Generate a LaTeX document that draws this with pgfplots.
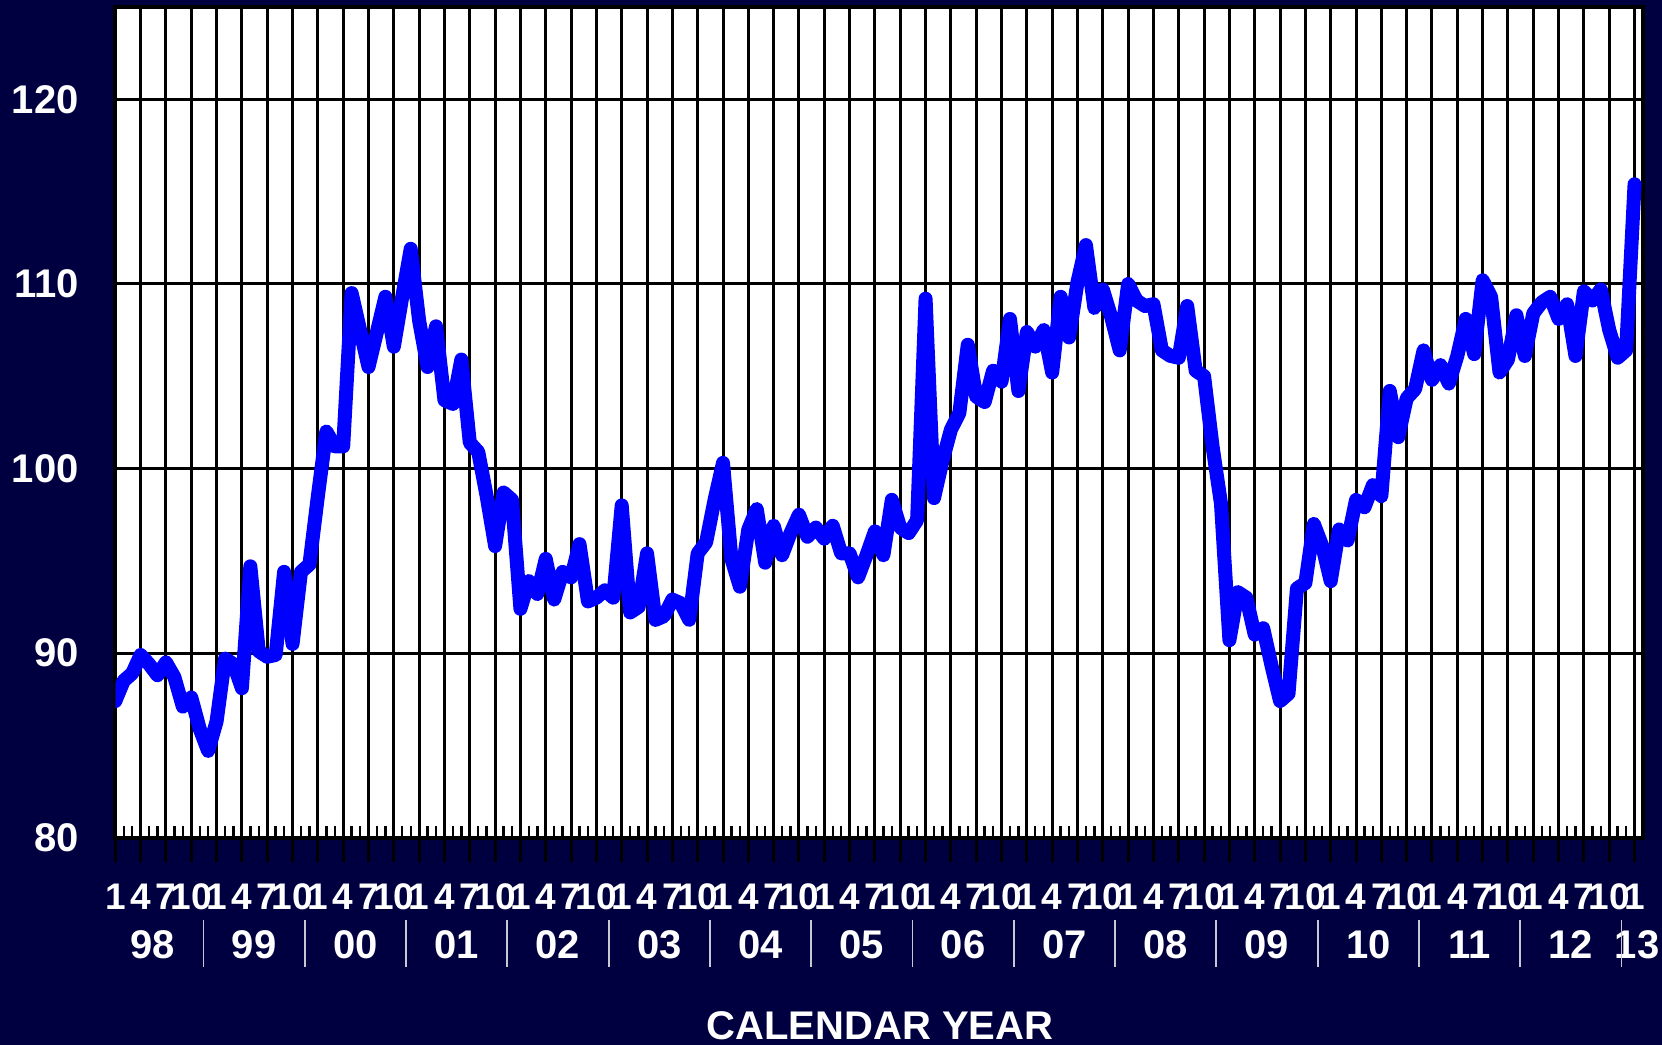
\documentclass[border=0pt]{standalone}
\usepackage{pgfplots}
\pgfplotsset{compat=1.18}
\usepackage{pgfplotstable}
\usepackage{fontspec}
\setmainfont{Liberation Sans}
\definecolor{navybg}{RGB}{0,0,64}
\definecolor{lineblue}{RGB}{0,0,255}
\definecolor{sepgrey}{RGB}{200,200,210}

\pgfplotstableread{
m v
0 87.4
1 88.5
2 88.9
3 89.9
4 89.4
5 88.8
6 89.5
7 88.7
8 87.1
9 87.6
10 85.9
11 84.7
12 86.3
13 89.7
14 89.4
15 88.1
16 94.7
17 90.1
18 89.8
19 89.9
20 94.4
21 90.5
22 94.4
23 94.8
24 98.5
25 102.0
26 101.2
27 101.2
28 109.5
29 107.5
30 105.5
31 107.4
32 109.3
33 106.6
34 109.3
35 111.9
36 108.0
37 105.5
38 107.7
39 103.7
40 103.5
41 105.9
42 101.4
43 100.9
44 98.5
45 95.8
46 98.7
47 98.3
48 92.4
49 93.9
50 93.2
51 95.1
52 92.9
53 94.4
54 94.1
55 95.9
56 92.8
57 93.0
58 93.4
59 93.0
60 98.0
61 92.2
62 92.5
63 95.4
64 91.8
65 92.0
66 92.9
67 92.7
68 91.8
69 95.4
70 96.0
71 98.3
72 100.3
73 95.1
74 93.6
75 96.7
76 97.8
77 94.9
78 96.9
79 95.3
80 96.5
81 97.5
82 96.3
83 96.8
84 96.2
85 96.9
86 95.4
87 95.4
88 94.1
89 95.3
90 96.6
91 95.3
92 98.3
93 96.8
94 96.5
95 97.2
96 109.2
97 98.4
98 100.4
99 102.1
100 103.0
101 106.7
102 103.9
103 103.6
104 105.3
105 104.7
106 108.1
107 104.2
108 107.4
109 106.6
110 107.5
111 105.2
112 109.3
113 107.1
114 110.1
115 112.1
116 108.7
117 109.7
118 108.2
119 106.4
120 110.0
121 109.1
122 108.8
123 108.9
124 106.4
125 106.1
126 106.0
127 108.8
128 105.3
129 105.0
130 101.2
131 98.1
132 90.7
133 93.3
134 93.0
135 91.0
136 91.35
137 89.3
138 87.4
139 87.8
140 93.5
141 93.8
142 97.0
143 95.8
144 93.9
145 96.7
146 96.1
147 98.3
148 97.9
149 99.1
150 98.5
151 104.2
152 101.7
153 103.8
154 104.3
155 106.4
156 104.8
157 105.6
158 104.6
159 106.1
160 108.1
161 106.2
162 110.2
163 109.3
164 105.2
165 105.9
166 108.3
167 106.1
168 108.4
169 109.0
170 109.3
171 108.1
172 108.9
173 106.1
174 109.6
175 109.1
176 109.7
177 107.5
178 106.0
179 106.4
180 115.4
}\datatable

\begin{document}
\begin{tikzpicture}[x=1pt,y=1pt]
\fill[navybg] (0,0) rectangle (831,522.5);
\path[use as bounding box] (0,0) rectangle (831,522.5);
\begin{axis}[
  at={(57.65pt,103.65pt)}, anchor=south west,
  scale only axis, width=763.85pt, height=415.35pt,
  xmin=0, xmax=181, ymin=80, ymax=125,
  axis background/.style={fill=white},
  axis line style={black, line width=2pt},
  grid=major,
  grid style={black, line width=1.5pt},
  xtick={0,3,...,180},
  xticklabels={1,4,7,10,1,4,7,10,1,4,7,10,1,4,7,10,1,4,7,10,1,4,7,10,1,4,7,10,1,4,7,10,1,4,7,10,1,4,7,10,1,4,7,10,1,4,7,10,1,4,7,10,1,4,7,10,1,4,7,10,1},
  minor x tick num=2,
  tick align=outside,
  xtick pos=bottom, ytick pos=left,
  major tick length=12pt,
  minor tick length=6pt,
  minor tick style={black, line width=1.2pt, yshift=6pt},
  major tick style={black, line width=1.5pt},
  ytick={80,90,100,110,120},
  ytick style={draw=none},
  /pgf/number format/assume math mode=true,
  xticklabel style={font=\fontsize{18.5}{21}\selectfont\bfseries, text=white, anchor=base, yshift=-24.15pt},
  yticklabel style={font=\fontsize{20}{23}\selectfont\bfseries, text=white, anchor=east, xshift=-2.8pt},
  extra x ticks={4.45,16.45,28.45,40.45,52.45,64.45,76.45,88.45,100.45,112.45,124.45,136.45,148.45,160.45,172.45,180.3},
  extra x tick labels={98,99,00,01,02,03,04,05,06,07,08,09,10,11,12,13},
  extra x tick style={grid=none, major tick length=0pt, tick style={draw=none},
    xticklabel style={font=\fontsize{20}{23}\selectfont\bfseries, yshift=-36.15pt}},
]
\addplot[lineblue, line width=7pt, line join=round, line cap=round, mark=none] table[x=m, y=v] {\datatable};
\pgfplotsinvokeforeach{1,...,15}{
  \coordinate (sep#1) at (axis cs:{12*#1-1.55},80);
}
\end{axis}
\foreach \k in {1,...,15}{
  \draw[sepgrey, line width=0.9pt] (sep\k) ++(0,-41.15) -- ++(0,-23.35);
}
\node[anchor=base, text=white, font=\fontsize{20}{23}\selectfont\bfseries] at (440,2.5) {CALENDAR YEAR};
\end{tikzpicture}
\end{document}
